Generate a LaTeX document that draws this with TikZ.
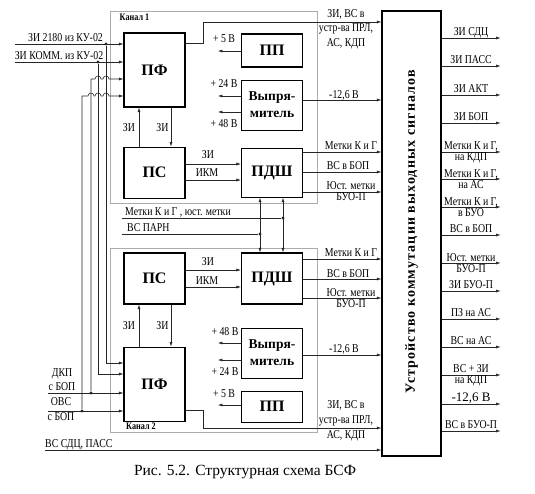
\documentclass[tikz,border=0pt]{standalone}
\usepackage{fontspec}
\setmainfont[FakeStretch=0.82]{Liberation Serif}
\newfontfamily\wideserif{Liberation Serif}
\usepackage{tikz}
\usetikzlibrary{arrows,arrows.meta,positioning,calc}

\begin{document}
\begin{tikzpicture}[>={Latex[length=4.5pt,width=3pt]},x=1pt,y=1pt,node distance=12pt,
  font=\fontsize{12}{11}\selectfont]
\tikzstyle{block}=[draw,line width=1.1pt,minimum width=61pt,inner sep=0pt,align=center,font=\wideserif\fontsize{16}{17}\selectfont\bfseries]
\tikzstyle{rect}=[block,font=\wideserif\fontsize{13.5}{17}\selectfont\bfseries]
\tikzstyle{wire}=[line width=0.55pt,draw=black!85]
\tikzstyle{frame}=[draw=gray!65,line width=0.6pt]
\tikzstyle{lbl}=[inner sep=0pt,align=center]
\tikzstyle{dot}=[circle,fill=black!85,inner sep=0pt,minimum size=3.2pt]

\useasboundingbox (0,0) rectangle (535,-494);

% channel frames
\draw[frame] (110,-11) rectangle (317,-203);
\draw[frame] (110,-248) rectangle (317,-432);
\node[lbl,font=\bfseries] (K1) at (134.5,-17.5) {Канал 1};
\node[lbl,font=\bfseries] (K2) at (141,-426) {Канал 2};

% channel 1
\node[block,minimum height=74pt] (PF1) at (154.5,-70) {ПФ};
\node[block,minimum height=51pt,below=39pt of PF1] (PS1) {ПС};
\node[block,minimum height=33pt] (PP1) at (272,-50.5) {ПП};
\node[rect,minimum height=50pt,below=of PP1] (VY1) {Выпря-\\митель};
\node[block,minimum height=49pt,below=17pt of VY1] (PDSH1) {ПДШ};

% channel 2
\node[block,minimum height=51pt] (PS2) at (154.5,-278.5) {ПС};
\node[block,minimum height=74pt,below=42pt of PS2] (PF2) {ПФ};
\node[block,minimum height=51pt] (PDSH2) at (272,-278.5) {ПДШ};
\node[rect,minimum height=50pt,below=23pt of PDSH2] (VY2) {Выпря-\\митель};
\node[block,minimum height=31pt,below=of VY2] (PP2) {ПП};

% output switch
\node[draw,line width=1.1pt,minimum width=59pt,minimum height=445pt] (UK) at (411.5,-233.5) {};
\node[rotate=90,font=\wideserif\fontsize{14}{14}\selectfont\bfseries\addfontfeature{LetterSpace=8}] (UKtext) at (411.5,-232) {Устройство коммутации выходных сигналов};

\foreach \y/\txt in {38/ЗИ СДЦ,66/ЗИ ПАСС,95/ЗИ АКТ,123/ЗИ БОП,235/ВС в БОП,291/ЗИ БУО-П,319/ПЗ на АС,347/ВС на АС,431/ВС в БУО-П}
{
  \draw[wire,->] (UK.east |- 0,-\y) -- ++(59,0);
  \node[lbl,anchor=base] at (471,-\y+2.5) {\txt};
}
\foreach \y/\txt in {152/{Метки К и Г,\\на КДП},179/{Метки К и Г,\\на АС},207/{Метки К и Г,\\в БУО},263/{Юст. метки\\БУО-П},375/{ВС + ЗИ\\на КДП}}
{
  \draw[wire,->] (UK.east |- 0,-\y) -- ++(59,0);
  \node[lbl] at (471,-\y-0.5) {\txt};
}
\draw[wire,->] (UK.east |- 0,-404) -- ++(59,0);
\node[lbl,anchor=base,font=\wideserif\fontsize{13}{13}\selectfont] at (471,-401) {-12,6 В};

% inside channel 1
\draw[wire,->] (PS1.north -| 139,0) -- (PF1.south -| 139,0);
\draw[wire,->] (PF1.south -| 171,0) -- (PS1.north -| 171,0);
\node[lbl] at (129,-128) {ЗИ};
\node[lbl] at (162.5,-128) {ЗИ};
\draw[wire,->] (PS1.east |- 0,-164) -- (PDSH1.west |- 0,-164);
\draw[wire,->] (PS1.east |- 0,-180) -- (PDSH1.west |- 0,-180);
\node[lbl] at (208,-155) {ЗИ};
\node[lbl] at (207,-173) {ИКМ};
\draw[wire,->] (PP1.west |- 0,-51) -- ++(-23,0);
\draw[wire,->] (VY1.west |- 0,-96) -- ++(-23,0);
\draw[wire,->] (VY1.west |- 0,-112) -- ++(-23,0);
\node[lbl] at (224,-39) {+ 5 В};
\node[lbl] at (224,-84) {+ 24 В};
\node[lbl] at (224,-124) {+ 48 В};

% channel 1 to switch
\coordinate (zi1) at (203,-22);
\draw[wire,->] (PF1.east |- 0,-43) -| (zi1) -- (UK.west |- zi1);
\node[lbl,font=\fontsize{12}{14.5}\selectfont] at (346,-29) {ЗИ, ВС в\\устр-ва ПРЛ,\\АС, КДП};
\draw[wire,->] (VY1.east |- 0,-100) -- (UK.west |- 0,-100);
\node[lbl,anchor=base] at (344,-98.5) {-12,6 В};
\draw[wire,->] (PDSH1.east |- 0,-152) -- (UK.west |- 0,-152);
\draw[wire,->] (PDSH1.east |- 0,-172) -- (UK.west |- 0,-172);
\draw[wire,->] (PDSH1.east |- 0,-192) -- (UK.west |- 0,-192);
\node[lbl,anchor=base] at (351,-150) {Метки К и Г};
\node[lbl,anchor=base] at (348,-170) {ВС в БОП};
\node[lbl] at (351,-191) {Юст. метки\\БУО-П};

% inside channel 2
\draw[wire,->] (PF2.north -| 139,0) -- (PS2.south -| 139,0);
\draw[wire,->] (PS2.south -| 171,0) -- (PF2.north -| 171,0);
\node[lbl] at (129,-326) {ЗИ};
\node[lbl] at (162.5,-326) {ЗИ};
\draw[wire,->] (PS2.east |- 0,-270) -- (PDSH2.west |- 0,-270);
\draw[wire,->] (PS2.east |- 0,-287) -- (PDSH2.west |- 0,-287);
\node[lbl] at (208,-262) {ЗИ};
\node[lbl] at (207,-281) {ИКМ};
\draw[wire,->] (VY2.west |- 0,-343) -- ++(-23,0);
\draw[wire,->] (VY2.west |- 0,-360) -- ++(-23,0);
\draw[wire,->] (PP2.west |- 0,-405) -- ++(-23,0);
\node[lbl] at (225,-332) {+ 48 В};
\node[lbl] at (225,-372) {+ 24 В};
\node[lbl] at (224,-394) {+ 5 В};

% channel 2 to switch
\draw[wire,->] (PDSH2.east |- 0,-259) -- (UK.west |- 0,-259);
\draw[wire,->] (PDSH2.east |- 0,-279) -- (UK.west |- 0,-279);
\draw[wire,->] (PDSH2.east |- 0,-298) -- (UK.west |- 0,-298);
\node[lbl,anchor=base] at (351,-257) {Метки К и Г};
\node[lbl,anchor=base] at (348,-277) {ВС в БОП};
\node[lbl] at (351,-298.5) {Юст. метки\\БУО-П};
\draw[wire,->] (VY2.east |- 0,-355) -- (UK.west |- 0,-355);
\node[lbl,anchor=base] at (344,-352.5) {-12,6 В};
\coordinate (zi2) at (203,-428);
\draw[wire,->] (PF2.east |- 0,-410) -| (zi2) -- (UK.west |- zi2);
\node[lbl,font=\fontsize{12}{15}\selectfont] at (346,-420.5) {ЗИ, ВС в\\устр-ва ПРЛ,\\АС, КДП};

% bus between channels
\draw[wire,<->] (PDSH1.south -| 260,0) -- (PDSH2.north -| 260,0);
\draw[wire,<->] (PDSH1.south -| 283,0) -- (PDSH2.north -| 283,0);
\node[dot] (b1) at (283,-218) {};
\node[dot] (b2) at (260,-234) {};
\coordinate (m1) at (122,-218);
\coordinate (m2) at (122,-234);
\draw[wire] (m1) -- (b1);
\draw[wire] (m2) -- (b2);
\node[lbl,anchor=base west] at (125,-215.5) {Метки К и Г , юст. метки};
\node[lbl,anchor=base west] at (127,-231.5) {ВС ПАРН};

% left inputs
\coordinate (in1) at (15,-44);
\coordinate (in2) at (15,-62);
\coordinate (in3) at (48,-393);
\coordinate (in4) at (48,-411);
\coordinate (in5) at (45,-450);
\draw[wire,->] (in1) -- (PF1.west |- in1);
\draw[wire,->] (in2) -- (PF1.west |- in2);
\draw[wire,->] (in3) -- (PF2.west |- in3);
\draw[wire,->] (in4) -- (PF2.west |- in4);
\draw[wire,->] (in5) -- (UK.west |- in5);
\node[dot] (j1) at (106,-44) {};
\node[dot] (j2) at (98,-62) {};
\node[dot] (j3) at (91,-393) {};
\node[dot] (j4) at (82,-411) {};
\draw[wire,->] (j1) |- (PF2.west |- 0,-363);
\draw[wire,->] (j2) |- (PF2.west |- 0,-374);
\draw[wire,->] (j3) |- (95,-79) arc[start angle=180,end angle=0,radius=3] -- (103,-79)
  arc[start angle=180,end angle=0,radius=3] -- (PF1.west |- 0,-79);
\draw[wire,->] (j4) |- (88,-96) arc[start angle=180,end angle=0,radius=3] -- (95,-96)
  arc[start angle=180,end angle=0,radius=3] -- (103,-96)
  arc[start angle=180,end angle=0,radius=3] -- (PF1.west |- 0,-96);
\node[lbl,anchor=base] at (65.5,-41.5) {ЗИ 2180 из КУ-02};
\node[lbl,anchor=base] at (59,-59.5) {ЗИ КОММ. из КУ-02};
\node[lbl,font=\fontsize{12}{14}\selectfont] at (62,-380) {ДКП\\с БОП};
\node[lbl,font=\fontsize{12}{15}\selectfont] at (61,-409.5) {ОВС\\с БОП};
\node[lbl,anchor=base west] at (45,-447) {ВС СДЦ, ПАСС};

% caption
\node[font=\wideserif\fontsize{15.5}{15.5}\selectfont] (cap) at (245,-472) {Рис. 5.2. Структурная схема БСФ};
\end{tikzpicture}
\end{document}
